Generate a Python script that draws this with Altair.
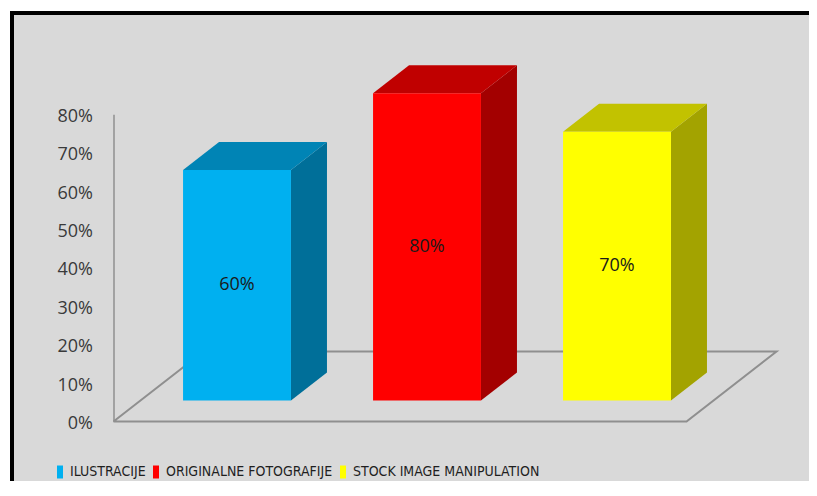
import altair as alt
import pandas as pd

# ---- data ----
categories = ["ILUSTRACIJE", "ORIGINALNE FOTOGRAFIJE", "STOCK IMAGE MANIPULATION"]
values = [0.60, 0.80, 0.70]
front_colors = ["#00b0f0", "#ff0000", "#ffff00"]
top_colors = ["#0084b5", "#c00000", "#c2c200"]
side_colors = ["#006f99", "#a30000", "#a3a300"]
tick_values = [0.0, 0.1, 0.2, 0.3, 0.4, 0.5, 0.6, 0.7, 0.8]

# ---- 3D projection constants (style) ----
HW = 0.284      # half bar width (category units)
DX = 0.1895     # x shift per unit of depth
DY = 0.0729     # y shift per unit of depth (value units)
ZF, ZB, ZFL = 0.75, 1.75, 2.5   # bar front, bar back, floor back depth
PAD = 0.224     # floor margin beyond outer bars

front_rows, top_rows, side_rows, label_rows = [], [], [], []
for i, (c, v) in enumerate(zip(categories, values)):
    front_rows.append(dict(category=c, x=i - HW + ZF * DX, x2=i + HW + ZF * DX,
                           y=ZF * DY, y2=v + ZF * DY))
    for z in (ZF, ZB):
        top_rows.append(dict(category=c, col=top_colors[i], y=v + z * DY,
                             x=i - HW + z * DX, x2=i + HW + z * DX))
        side_rows.append(dict(category=c, col=side_colors[i], x=i + HW + z * DX,
                              y=z * DY, y2=v + z * DY))
    label_rows.append(dict(category=c, x=i + ZF * DX, y=ZF * DY + v / 2, v=v))

xl, xr = -HW - PAD, (len(categories) - 1) + HW + PAD
floor = pd.DataFrame([
    dict(o=0, x=xl, y=0.0),
    dict(o=1, x=xr, y=0.0),
    dict(o=2, x=xr + ZFL * DX, y=ZFL * DY),
    dict(o=3, x=xl + ZFL * DX, y=ZFL * DY),
    dict(o=4, x=xl, y=0.0),
])

xs = alt.Scale(domain=[0, 2], range=[196, 576])
ys = alt.Scale(domain=[0, 0.8], range=[406.5, 99.3], nice=False, zero=False)
X = lambda f="x": alt.X(f"{f}:Q", scale=xs, axis=None)

floor_l = alt.Chart(floor).mark_line(color="#8f8f8f", strokeWidth=2).encode(
    x=X(), y=alt.Y("y:Q", scale=ys,
                   axis=alt.Axis(values=tick_values, format=".0%", ticks=False, grid=False,
                                 domainColor="#8f8f8f", domainWidth=1.5, offset=-99.5,
                                 labelPadding=21, labelOffset=2, labelFont="Open Sans",
                                 labelFontSize=18, labelColor="#3a3a3a", title=None)),
    order="o:Q")

side = alt.Chart(pd.DataFrame(side_rows)).mark_area(orient="vertical").encode(
    x=X(), y=alt.Y("y:Q", scale=ys), y2="y2:Q",
    color=alt.Color("col:N", scale=None), detail="category:N")

top = alt.Chart(pd.DataFrame(top_rows)).mark_area(orient="horizontal").encode(
    y=alt.Y("y:Q", scale=ys), x=X(), x2="x2:Q",
    color=alt.Color("col:N", scale=None), detail="category:N")

front = alt.Chart(pd.DataFrame(front_rows)).mark_rect().encode(
    x=X(), x2="x2:Q", y=alt.Y("y:Q", scale=ys), y2="y2:Q",
    color=alt.Color("category:N",
                    scale=alt.Scale(domain=categories, range=front_colors),
                    legend=alt.Legend(orient="none", legendX=39, legendY=450,
                                      direction="horizontal", title=None,
                                      symbolType="M-0.46,-1H0.46V1H-0.46Z",
                                      symbolSize=169, symbolStrokeWidth=0,
                                      symbolOpacity=1,
                                      labelFont="'DejaVu Sans Condensed', 'DejaVu Sans', sans-serif",
                                      labelFontSize=14, labelColor="#1f1f1f", labelLimit=0,
                                      labelOffset=3, columnPadding=3)))

labels = alt.Chart(pd.DataFrame(label_rows)).mark_text(
    font="Open Sans", fontSize=18, color="#1a1a1a").encode(
    x=X(), y=alt.Y("y:Q", scale=ys), text=alt.Text("v:Q", format=".0%"))

border_top = alt.Chart(floor).mark_rule(color="black", strokeWidth=4).encode(
    x=alt.value(-4), x2=alt.value(810), y=alt.value(-2))
border_left = alt.Chart(floor).mark_rule(color="black", strokeWidth=4).encode(
    x=alt.value(-2), y=alt.value(-4), y2=alt.value(480))

chart = alt.layer(floor_l, side, top, front, labels, border_top, border_left).properties(
    width=795, height=466,
    autosize=alt.AutoSizeParams(type="none"),
    padding={"left": 6, "top": 7, "right": 0, "bottom": 0},
    background="white",
).configure_view(fill="#d9d9d9", strokeWidth=0)

chart.save("out.html", embed_options={"renderer": "svg", "actions": False})
